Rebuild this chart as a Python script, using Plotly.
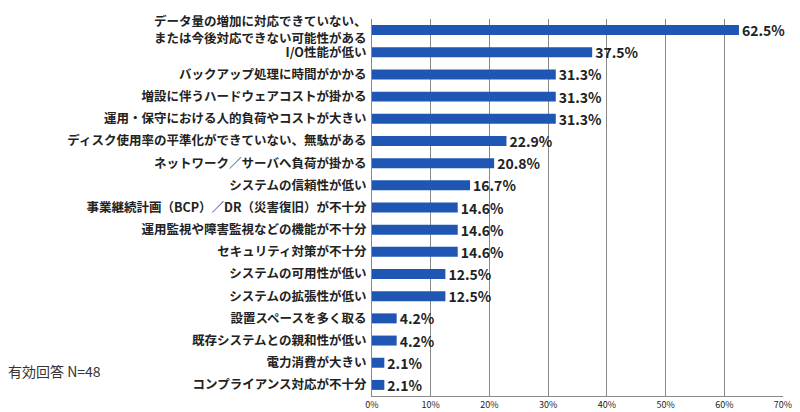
import plotly.graph_objects as go

categories = ["データ量の増加に対応できていない、<br>または今後対応できない可能性がある", "I/O性能が低い", "バックアップ処理に時間がかかる",
 "増設に伴うハードウェアコストが掛かる", "運用・保守における人的負荷やコストが大きい", "ディスク使用率の平準化ができていない、無駄がある",
 "ネットワーク／サーバへ負荷が掛かる", "システムの信頼性が低い", "事業継続計画（BCP）／DR（災害復旧）が不十分",
 "運用監視や障害監視などの機能が不十分", "セキュリティ対策が不十分", "システムの可用性が低い", "システムの拡張性が低い",
 "設置スペースを多く取る", "既存システムとの親和性が低い", "電力消費が大きい", "コンプライアンス対応が不十分"]
values = [62.5, 37.5, 31.3, 31.3, 31.3, 22.9, 20.8, 16.7, 14.6, 14.6, 14.6, 12.5, 12.5, 4.2, 4.2, 2.1, 2.1]
ticks = [0, 10, 20, 30, 40, 50, 60, 70]

fig = go.Figure(go.Bar(
    y=categories, x=values, orientation="h", width=0.45,
    marker=dict(color="#1F56B4", line=dict(width=0)),
    text=[f"{v:.1f}%" for v in values], textposition="outside", cliponaxis=False,
    constraintext="none",
    textfont=dict(family="Noto Sans CJK JP", size=14, color="#222"),
    texttemplate="<b>%{text}</b>",
))
fig.update_layout(
    width=800, height=412, margin=dict(l=364, r=25, t=4, b=24),
    plot_bgcolor="white", paper_bgcolor="white", showlegend=False, bargap=0.5,
    font=dict(family="Noto Sans CJK JP", color="#222"),
)
fig.update_xaxes(range=[0, 70], tickvals=ticks, ticktext=[f"{t}%" for t in ticks],
                 showgrid=True, gridcolor="#888", gridwidth=1, showline=True, linecolor="#888",
                 tickfont=dict(size=9), zeroline=False)
fig.update_yaxes(autorange="reversed", showline=True, linecolor="#888",
                 tickfont=dict(size=12.5), ticklabelstandoff=2)
fig.update_yaxes(tickmode="array", tickvals=categories, ticktext=[f"<b>{c}</b>" for c in categories])
fig.add_annotation(text="有効回答 N=48", xref="paper", yref="paper", x=-0.89, y=0.035,
                   xanchor="left", showarrow=False, font=dict(size=14, color="#333"))
fig.write_html("out.html")
